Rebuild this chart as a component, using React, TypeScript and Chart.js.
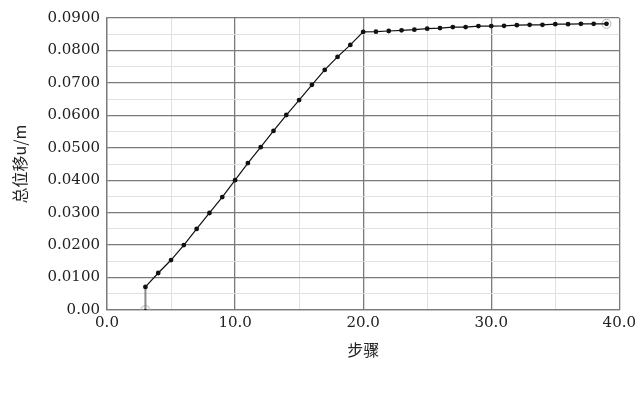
import React, { useEffect, useRef } from "react";
import { Chart, registerables } from "chart.js";

Chart.register(...registerables);

const steps = [3, 3, 4, 5, 6, 7, 8, 9, 10, 11, 12, 13, 14, 15, 16, 17, 18, 19, 20, 21, 22, 23, 24, 25, 26, 27, 28, 29, 30, 31, 32, 33, 34, 35, 36, 37, 38, 39];
const displacement = [
  0, 0.0071, 0.0114, 0.0154, 0.02, 0.025, 0.0299, 0.0348, 0.04, 0.0453, 0.0502, 0.0552, 0.0601, 0.0647, 0.0694, 0.074,
  0.078, 0.0817, 0.0857, 0.0858, 0.086, 0.0862, 0.0864, 0.0867, 0.0869, 0.0872, 0.0872, 0.0875, 0.0875, 0.0876, 0.0878,
  0.0879, 0.0879, 0.0881, 0.0881, 0.0882, 0.0882, 0.0882,
];
const xTickLabels = ["0.0", "10.0", "20.0", "30.0", "40.0"];
const yTickLabels = ["0.00", "0.0100", "0.0200", "0.0300", "0.0400", "0.0500", "0.0600", "0.0700", "0.0800", "0.0900"];
const xTitle = "步骤";
const yTitle = "总位移u/m";

const FONT = "'DejaVu Serif', 'Noto Sans CJK SC', serif";
const CJK = "'Noto Sans CJK SC', serif";

export default function App() {
  const ref = useRef<HTMLCanvasElement | null>(null);
  useEffect(() => {
    if (!ref.current) return;
    const pts = steps.map((x, i) => ({ x, y: displacement[i] }));
    const ends = [pts[0], pts[pts.length - 1]];
    const chart = new Chart(ref.current, {
      type: "scatter",
      data: {
        datasets: [
          {
            data: pts,
            showLine: true,
            borderColor: "#111",
            borderWidth: 1.2,
            backgroundColor: "#111",
            pointRadius: pts.map((_, i) => (i === 0 ? 1.3 : 2.4)),
            pointBorderWidth: 0,
            segment: {
              borderColor: (ctx: any) => (ctx.p0.parsed.x === ctx.p1.parsed.x ? "#8a8a8a" : "#111"),
              borderWidth: (ctx: any) => (ctx.p0.parsed.x === ctx.p1.parsed.x ? 2 : 1.2),
            },
          },
          {
            data: ends,
            showLine: false,
            pointRadius: 4.5,
            pointBorderWidth: 1,
            pointBorderColor: "#b0b0b0",
            pointBackgroundColor: "rgba(0,0,0,0)",
          },
        ],
      },
      options: {
        animation: false,
        responsive: true,
        maintainAspectRatio: false,
        layout: { padding: { left: 0, right: 20, top: 18, bottom: 56 } },
        plugins: { legend: { display: false }, tooltip: { enabled: false } },
        scales: {
          x: {
            type: "linear",
            min: 0,
            max: 40,
            afterFit: (s: any) => {
              s.height = 50;
            },
            ticks: {
              stepSize: 5,
              autoSkip: false,
              maxRotation: 0,
              padding: 4,
              color: "#222",
              font: { family: FONT, size: 15 },
              callback: (v: any) => {
                const n = Math.round(Number(v));
                return n % 10 === 0 ? xTickLabels[n / 10] : "";
              },
            },
            grid: {
              drawTicks: false,
              color: (c: any) => (Math.round(c.tick.value) % 10 === 0 ? "#7a7a7a" : "#e0e0e0"),
              lineWidth: (c: any) => (Math.round(c.tick.value) % 10 === 0 ? 1.3 : 1),
            },
            border: { color: "#7a7a7a", width: 1.3 },
            title: {
              display: true,
              text: xTitle,
              color: "#222",
              font: { family: CJK, size: 16 },
              padding: { top: 4, bottom: 0 },
            },
          },
          y: {
            type: "linear",
            min: 0,
            max: 0.09,
            afterFit: (s: any) => {
              s.width = 107;
            },
            ticks: {
              stepSize: 0.005,
              autoSkip: false,
              padding: 7,
              color: "#222",
              font: { family: FONT, size: 15 },
              callback: (v: any) => {
                const k = Math.round(Number(v) * 1000);
                return k % 10 === 0 ? yTickLabels[k / 10] : "";
              },
            },
            grid: {
              drawTicks: false,
              color: (c: any) => (Math.round(c.tick.value * 1000) % 10 === 0 ? "#7a7a7a" : "#e0e0e0"),
              lineWidth: (c: any) => (Math.round(c.tick.value * 1000) % 10 === 0 ? 1.3 : 1),
            },
            border: { color: "#7a7a7a", width: 1.3 },
            title: {
              display: true,
              text: yTitle,
              color: "#222",
              font: { family: CJK, size: 16 },
              padding: { top: 10, bottom: 0 },
            },
          },
        },
      },
    });
    return () => chart.destroy();
  }, []);
  return (
    <div style={{ position: "absolute", left: 0, top: 0, width: 640, height: 416, background: "#fff" }}>
      <canvas ref={ref} />
    </div>
  );
}
